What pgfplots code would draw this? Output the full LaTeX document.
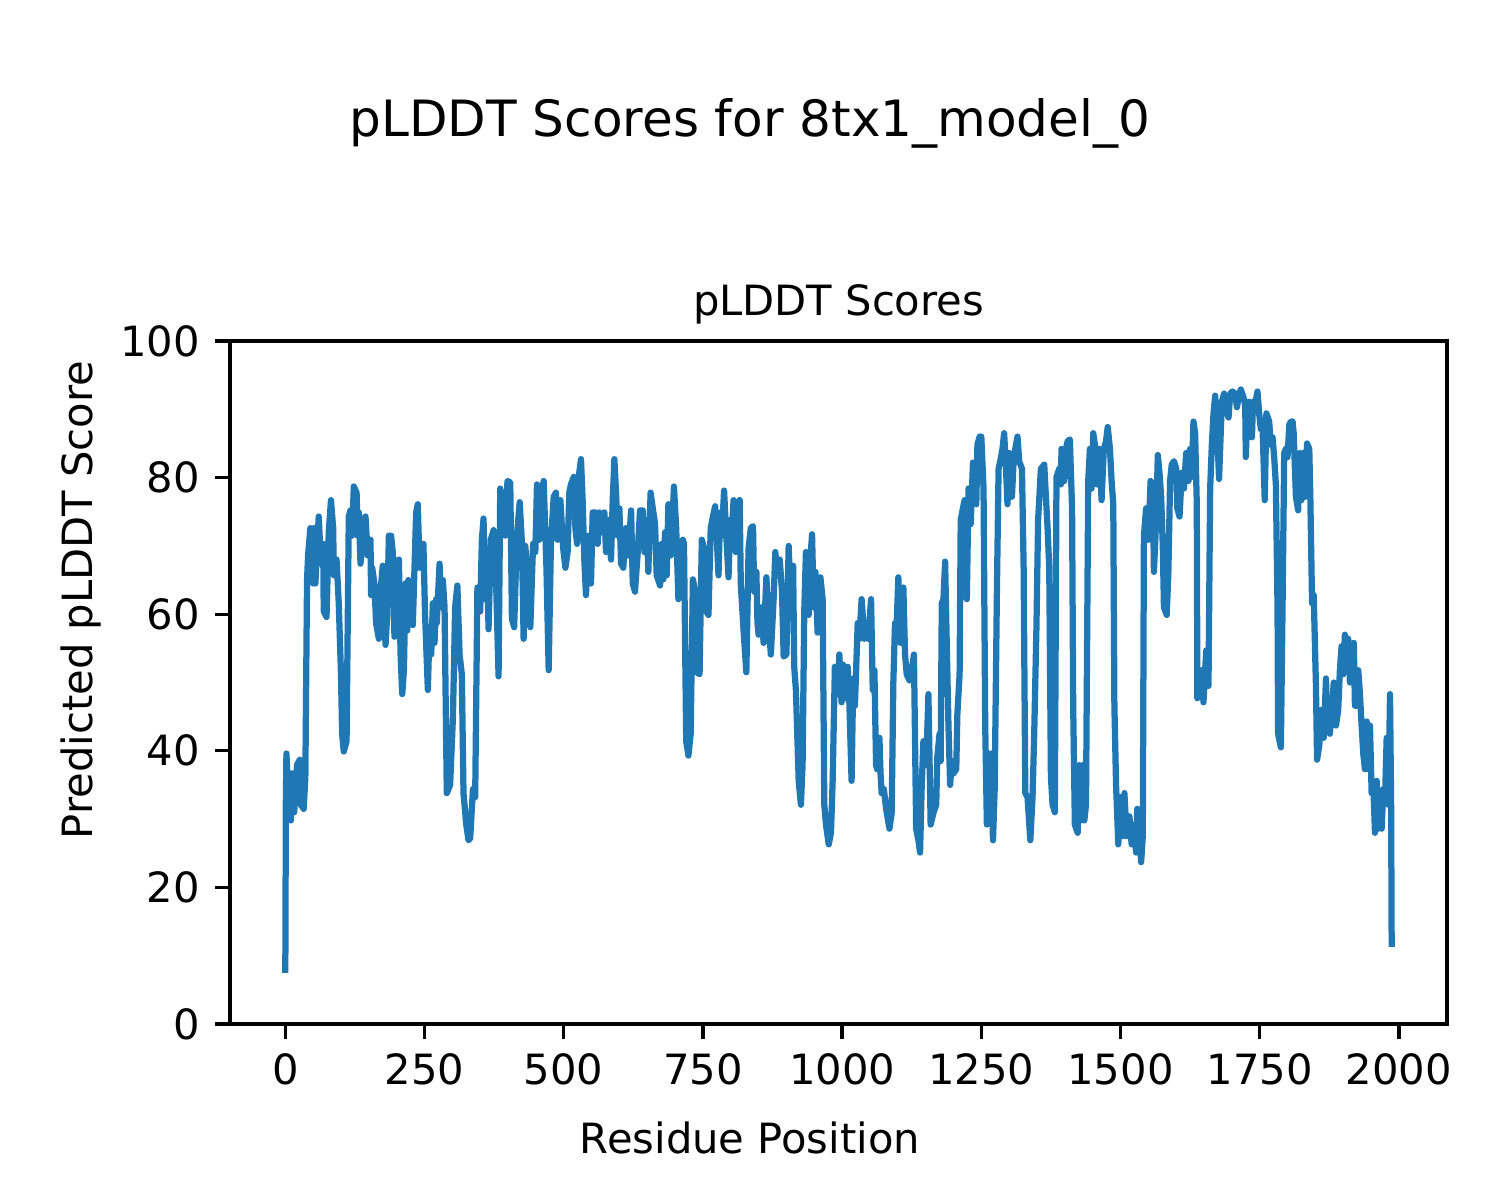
\documentclass[border=0pt]{standalone}
\usepackage{pgfplots}
\pgfplotsset{compat=1.18}
\usepackage{fontspec}
\setmainfont{DejaVu Sans}
\definecolor{mplblue}{HTML}{1F77B4}
\begin{document}
\begin{tikzpicture}
\path[use as bounding box] (-55.2bp,-42.24bp) rectangle (304.8bp,245.76bp);
\begin{axis}[
  at={(0bp,0bp)}, anchor=south west,
  width=292.08bp, height=163.92bp, scale only axis,
  xmin=-99.35, xmax=2086.35, ymin=0, ymax=100,
  xtick={0,250,500,750,1000,1250,1500,1750,2000},
  ytick={0,20,40,60,80,100},
  xtick pos=lower, ytick pos=left,
  tick align=outside, major tick length=3.5bp,
  tick style={line width=0.8bp, black},
  axis line style={line width=0.8bp},
  /pgf/number format/assume math mode=true,
  /pgf/number format/1000 sep={},
  ticklabel style={font=\fontsize{10.04}{12}\selectfont},
  xticklabel style={inner sep=0pt, anchor=north, yshift=-3.5bp},
  yticklabel style={inner sep=0pt, anchor=east, xshift=-3.5bp},
  clip=true,
]
\addplot[color=mplblue, line width=1.5bp, line join=round, mark=none] coordinates {
(0,7.5)(1,32.7)(2,39.6)(6,32.1)(10,29.8)(12,36.7)(16,31.0)(21,37.9)(26,38.7)(28,32.1)
(33,31.5)(36,36.1)(39,65.0)(41,68.8)(45,72.6)(50,64.5)(51,72.6)(54,64.5)(60,74.3)(64,67.4)
(68,70.3)(69,60.4)(74,59.6)(78,72.0)(82,76.7)(86,72.6)(87,65.7)(92,68.0)(96,61.6)(100,51.2)
(102,42.5)(105,39.9)(110,41.4)(114,74.3)(117,75.2)(120,71.5)(123,78.7)(128,77.8)(130,71.5)(132,74.9)
(135,67.4)(140,71.5)(144,74.3)(148,68.6)(153,70.9)(154,62.8)(156,66.8)(160,64.5)(163,58.7)(168,56.4)
(171,63.4)(175,67.1)(180,55.5)(183,59.9)(186,71.5)(190,71.5)(193,69.1)(196,56.7)(199,67.4)(204,68.0)
(207,54.1)(210,48.3)(213,51.8)(216,64.5)(219,57.6)(221,65.0)(226,61.0)(229,58.4)(232,66.8)(235,74.9)
(238,76.1)(241,66.8)(245,68.6)(248,70.3)(251,59.9)(256,48.9)(259,58.1)(262,54.1)(265,61.6)(268,55.8)
(271,62.2)(272,58.7)(277,67.4)(280,61.0)(283,65.0)(286,61.0)(290,33.8)(296,35.0)(301,44.8)(305,61.0)
(309,64.2)(313,54.1)(317,51.2)(320,33.8)(325,29.2)(329,26.9)(332,27.2)(337,34.4)(341,33.2)(345,63.9)
(350,60.4)(353,70.9)(356,74.0)(359,62.2)(362,69.7)(365,57.8)(369,70.9)(374,72.3)(379,63.3)(383,50.9)
(386,78.4)(389,71.5)(392,77.8)(395,71.5)(399,79.5)(404,79.3)(407,59.3)(411,58.1)(416,71.5)(421,76.4)
(425,70.3)(428,56.4)(431,70.0)(435,65.7)(440,58.1)(445,70.3)(449,69.1)(452,79.0)(456,70.9)(459,76.7)
(464,79.5)(469,66.8)(473,51.8)(477,70.3)(482,77.2)(486,77.8)(489,70.9)(494,76.7)(499,69.7)(503,66.8)
(507,69.1)(510,77.8)(513,79.0)(518,80.1)(521,72.6)(524,70.3)(527,80.1)(531,82.7)(534,76.7)(537,68.0)
(540,62.8)(545,71.5)(549,64.5)(552,74.9)(557,74.9)(561,70.3)(564,74.9)(569,72.0)(573,74.9)(576,69.1)
(580,73.8)(585,68.0)(588,76.7)(591,82.7)(594,77.8)(597,71.5)(600,75.5)(603,67.4)(607,66.8)(612,72.6)
(616,68.6)(621,75.2)(624,64.5)(628,63.3)(633,69.1)(637,75.2)(642,75.2)(645,69.1)(649,73.8)(652,66.2)
(656,77.8)(664,73.2)(667,65.7)(673,64.2)(676,70.3)(679,65.1)(682,72.0)(685,65.7)(688,76.1)(692,68.6)
(696,74.9)(698,78.7)(702,72.6)(706,62.2)(710,66.8)(714,70.9)(716,70.3)(720,41.4)(724,39.3)(728,42.5)
(732,65.1)(736,63.3)(739,51.5)(744,51.2)(748,70.9)(752,69.7)(756,60.4)(760,59.9)(764,72.6)(768,74.3)
(772,75.8)(775,70.9)(778,65.7)(781,74.9)(784,71.5)(788,78.1)(792,71.5)(796,65.4)(799,73.8)(802,71.5)
(805,76.7)(809,69.1)(812,76.1)(816,76.7)(818,64.5)(823,57.6)(828,51.5)(832,69.7)(836,72.6)(840,72.9)
(842,63.3)(846,66.2)(848,58.7)(850,57.0)(855,61.0)(859,55.8)(864,65.4)(868,58.7)(872,54.1)(877,62.2)
(880,69.1)(884,65.7)(888,68.0)(892,63.3)(895,53.8)(900,54.1)(904,70.0)(907,63.3)(912,67.1)(914,52.3)
(917,48.9)(922,35.6)(926,32.1)(929,37.9)(932,60.4)(935,69.1)(940,59.9)(943,68.0)(946,71.7)(949,61.0)
(952,66.2)(956,57.3)(961,65.4)(965,62.2)(968,32.1)(971,29.2)(976,26.3)(980,28.0)(983,35.6)(987,52.3)
(992,48.3)(995,54.1)(999,47.1)(1002,52.6)(1005,47.7)(1010,52.3)(1013,47.1)(1017,35.6)(1020,50.6)(1023,46.6)
(1028,58.7)(1031,56.4)(1035,62.2)(1040,56.4)(1044,58.7)(1047,56.4)(1052,62.2)(1055,48.9)(1058,51.8)(1061,37.9)
(1063,37.3)(1067,41.9)(1069,36.7)(1071,33.8)(1075,34.4)(1079,31.5)(1085,28.6)(1089,30.9)(1092,50.0)(1095,58.7)
(1098,58.7)(1101,65.4)(1105,55.8)(1110,63.9)(1113,54.1)(1116,51.2)(1121,50.3)(1125,51.8)(1129,54.1)(1133,28.6)
(1137,26.9)(1140,25.1)(1143,35.0)(1146,41.4)(1151,37.9)(1155,48.3)(1159,29.2)(1164,30.9)(1169,32.1)(1171,39.1)
(1175,42.5)(1177,38.5)(1179,61.6)(1182,62.2)(1185,67.7)(1188,55.3)(1191,43.7)(1194,35.0)(1197,38.5)(1200,36.7)
(1205,37.3)(1207,45.4)(1211,51.2)(1213,73.8)(1217,75.5)(1220,76.7)(1224,62.2)(1227,78.4)(1231,73.2)(1235,82.2)
(1238,81.9)(1241,76.1)(1243,84.8)(1247,86.0)(1250,86.0)(1254,78.4)(1257,43.7)(1260,29.2)(1263,37.9)(1267,39.6)
(1271,26.9)(1274,34.4)(1278,63.4)(1281,81.3)(1284,82.4)(1288,84.2)(1291,86.5)(1294,81.9)(1297,76.1)(1300,83.6)
(1305,77.2)(1308,82.4)(1311,84.2)(1315,86.0)(1318,82.4)(1323,81.3)(1326,66.8)(1329,33.8)(1333,33.2)(1338,26.9)
(1342,33.2)(1345,42.5)(1349,58.1)(1352,73.8)(1357,81.3)(1363,81.9)(1366,77.2)(1369,72.6)(1372,66.8)(1375,36.1)
(1378,32.1)(1382,31.0)(1385,80.1)(1390,81.3)(1393,79.0)(1394,84.2)(1399,79.5)(1402,84.2)(1405,85.3)(1409,85.6)
(1413,75.5)(1415,46.6)(1418,29.2)(1423,28.0)(1426,37.9)(1429,29.8)(1432,37.9)(1435,29.8)(1438,32.1)(1442,79.5)
(1445,84.2)(1448,78.4)(1451,86.5)(1455,84.2)(1458,79.0)(1462,84.2)(1466,76.7)(1470,84.2)(1474,85.3)(1477,87.4)
(1481,84.2)(1484,79.5)(1487,76.1)(1489,46.6)(1492,35.0)(1496,26.3)(1500,33.2)(1504,27.5)(1507,33.8)(1511,27.5)
(1516,30.4)(1520,26.3)(1524,29.2)(1528,25.1)(1530,31.5)(1534,28.6)(1537,23.7)(1540,27.5)(1542,71.5)(1546,75.5)
(1550,70.9)(1554,79.5)(1558,79.0)(1560,66.2)(1564,73.8)(1567,83.3)(1570,80.7)(1573,77.2)(1576,69.7)(1578,61.0)
(1583,59.9)(1586,66.2)(1589,79.5)(1592,81.9)(1596,82.4)(1600,81.3)(1602,75.5)(1606,74.3)(1610,80.7)(1614,78.4)
(1618,83.6)(1622,79.5)(1625,84.2)(1628,80.1)(1631,88.2)(1634,86.5)(1637,76.1)(1638,47.7)(1642,49.5)(1646,51.8)
(1649,47.1)(1652,51.8)(1654,54.7)(1658,49.5)(1661,78.4)(1664,84.8)(1667,89.4)(1670,92.0)(1673,88.2)(1677,79.8)
(1682,91.1)(1686,92.3)(1689,90.0)(1694,88.8)(1697,92.3)(1701,92.6)(1706,92.3)(1709,90.3)(1712,91.7)(1716,92.9)
(1721,91.7)(1724,90.5)(1725,83.0)(1728,90.0)(1731,91.1)(1736,85.9)(1738,91.1)(1741,90.5)(1746,92.6)(1749,89.4)
(1752,87.1)(1755,87.7)(1759,76.7)(1762,89.4)(1767,88.2)(1770,84.8)(1773,85.9)(1776,83.0)(1779,79.0)(1782,61.0)
(1783,42.5)(1788,40.5)(1791,61.0)(1794,83.6)(1797,84.2)(1800,83.0)(1803,87.7)(1806,88.2)(1809,88.2)(1811,86.5)
(1815,77.2)(1819,75.2)(1822,83.6)(1825,76.7)(1828,83.6)(1832,77.2)(1835,85.0)(1839,84.2)(1841,76.7)(1844,61.6)
(1847,62.8)(1851,49.5)(1853,38.7)(1857,40.8)(1861,46.0)(1865,41.9)(1869,50.6)(1871,43.7)(1876,42.5)(1880,46.6)
(1883,50.0)(1887,43.7)(1891,46.0)(1894,51.8)(1897,55.3)(1900,51.2)(1903,57.0)(1906,51.8)(1909,56.4)(1912,50.0)
(1915,54.1)(1919,55.8)(1921,46.6)(1924,46.6)(1927,51.8)(1930,48.3)(1933,43.7)(1936,39.6)(1939,37.3)(1942,44.3)
(1945,37.3)(1948,43.7)(1951,33.8)(1954,35.0)(1957,28.0)(1960,35.6)(1963,28.6)(1966,32.1)(1969,28.6)(1972,34.4)
(1975,32.7)(1978,41.9)(1981,32.1)(1984,48.3)(1986,32.1)(1987,11.3)
};
\end{axis}
\node[anchor=base, font=\fontsize{10.04}{12}\selectfont, inner sep=0pt] at (146.04bp,169.92bp) {pLDDT Scores};
\node[anchor=base, font=\fontsize{12.05}{14}\selectfont, inner sep=0pt] at (124.8bp,212.88bp) {pLDDT Scores for 8tx1\_model\_0};
\node[anchor=base, font=\fontsize{10.04}{12}\selectfont, inner sep=0pt] at (124.8bp,-30.96bp) {Residue Position};
\node[anchor=base, rotate=90, font=\fontsize{10.04}{12}\selectfont, inner sep=0pt] at (-33.1bp,101.76bp) {Predicted pLDDT Score};
\end{tikzpicture}
\end{document}
